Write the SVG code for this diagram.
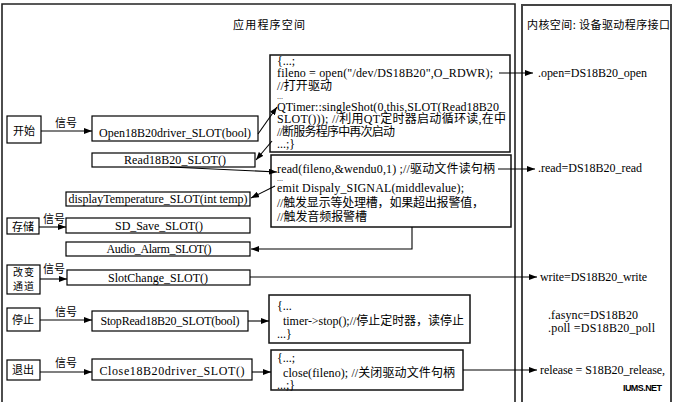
<svg xmlns="http://www.w3.org/2000/svg" width="677" height="402" viewBox="0 0 677 402">
<defs>
<marker id="ah" markerWidth="8" markerHeight="6" refX="8" refY="3" orient="auto" markerUnits="userSpaceOnUse">
<path d="M0,0 L8,3 L0,6 z" fill="#000"/>
</marker>
<style>
.frame{fill:none;stroke:#222;stroke-width:1.6}
.frame2{fill:none;stroke:#444;stroke-width:2}
.box{fill:#fff;stroke:#000;stroke-width:1.2}
.cbox{fill:#fff;stroke:#111;stroke-width:1.5}
.t{font-family:"Liberation Serif","Noto Sans CJK SC",serif;font-size:12px;fill:#000}
.d{font-family:"Liberation Serif",serif;font-size:8px;fill:#000}
.c{font-family:"Noto Sans CJK SC",sans-serif;font-size:11px;fill:#000}
.s{font-size:10px}
.m{text-anchor:middle}
.ln{fill:none;stroke:#000;stroke-width:1.1}
.ar{fill:none;stroke:#000;stroke-width:1.1;marker-end:url(#ah)}
.wm{font-family:"Liberation Sans",sans-serif;font-size:9px;font-weight:bold;fill:#000}
</style>
</defs>
<rect width="677" height="402" fill="#fff"/>

<g id="app-space">
<path class="frame" d="M2,402 V4 H515 V402"/>
<text class="c" x="233" y="29" textLength="72">应用程序空间</text>
</g>
<g id="kernel-space">
<path class="frame2" d="M522,402 V5 H671 V402"/>
<text class="c" x="527" y="29" textLength="143">内核空间: 设备驱动程序接口</text>
<text class="t" x="538" y="77" textLength="109">.open=DS18B20_open</text>
<text class="t" x="538" y="172" textLength="104">.read=DS18B20_read</text>
<text class="t" x="540" y="281" textLength="107">write=DS18B20_write</text>
<text class="t" x="548" y="319" textLength="90">.fasync=DS18B20</text>
<text class="t" x="548" y="332" textLength="107">.poll =DS18B20_poll</text>
<text class="t" x="540" y="374" textLength="125">release = S18B20_release,</text>
<text class="wm" x="623" y="391" textLength="39">IUMS.NET</text>
</g>

<g id="start">
<rect class="box" x="7" y="116" width="34" height="27"/>
<text class="c" x="13" y="135">开始</text>
</g>
<g id="open-slot">
<rect class="box" x="92" y="116" width="166" height="25"/>
<text class="t m" x="175" y="137" textLength="152">Open18B20driver_SLOT(bool)</text>
</g>
<g id="code-open">
<rect class="cbox" x="270" y="55" width="240" height="97"/>
<text class="t" x="277" y="65">{...;</text>
<text class="t" x="277" y="77" textLength="216">fileno = open("/dev/DS18B20",O_RDWR);</text>
<text class="t" x="277" y="90" textLength="55">//打开驱动</text>
<text class="d" x="277" y="99">...</text>
<text class="t" x="277" y="111" textLength="228">QTimer::singleShot(0,this,SLOT(Read18B20_</text>
<text class="t" x="277" y="123" textLength="229">SLOT())); //利用QT定时器启动循环读,在中</text>
<text class="t" x="277" y="136" textLength="118">//断服务程序中再次启动</text>
<text class="t" x="277" y="148">...;}</text>
</g>
<g id="read-slot">
<rect class="box" x="92" y="153" width="163" height="14"/>
<text class="t m" x="175" y="164" textLength="102">Read18B20_SLOT()</text>
</g>
<g id="code-read">
<rect class="cbox" x="271" y="155" width="240" height="72"/>
<text class="t" x="277" y="173" textLength="218">read(fileno,&amp;wendu0,1) ;//驱动文件读句柄</text>
<text class="d" x="277" y="181">...</text>
<text class="t" x="277" y="192" textLength="187">emit Dispaly_SIGNAL(middlevalue);</text>
<text class="t" x="277" y="207" textLength="207">//触发显示等处理槽，如果超出报警值，</text>
<text class="t" x="277" y="221" textLength="90">//触发音频报警槽</text>
</g>
<g id="display-slot">
<rect class="box" x="66" y="192" width="184" height="14"/>
<text class="t m" x="158" y="203" textLength="179">displayTemperature_SLOT(int temp)</text>
</g>
<g id="store">
<rect class="box" x="7" y="218" width="32" height="16"/>
<text class="c" x="12" y="231">存储</text>
</g>
<g id="sd-slot">
<rect class="box" x="66" y="218" width="184" height="15"/>
<text class="t m" x="159" y="230" textLength="88">SD_Save_SLOT()</text>
</g>
<g id="audio-slot">
<rect class="box" x="66" y="242" width="184" height="14"/>
<text class="t m" x="159" y="253" textLength="105">Audio_Alarm_SLOT()</text>
</g>
<g id="change">
<rect class="box" x="7" y="265" width="33" height="29"/>
<text class="c s" x="13" y="276" textLength="21">改变</text>
<text class="c s" x="13" y="290" textLength="21">通道</text>
</g>
<g id="slotchange-slot">
<rect class="box" x="67" y="270" width="183" height="15"/>
<text class="t m" x="158" y="282" textLength="100">SlotChange_SLOT()</text>
</g>
<g id="stop">
<rect class="box" x="7" y="308" width="33" height="23"/>
<text class="c" x="12" y="324">停止</text>
</g>
<g id="stopread-slot">
<rect class="box" x="92" y="311" width="156" height="20"/>
<text class="t m" x="170" y="325" textLength="139">StopRead18B20_SLOT(bool)</text>
</g>
<g id="code-stop">
<rect class="cbox" x="269" y="295" width="201" height="48"/>
<text class="t" x="277" y="310">{...</text>
<text class="t" x="283" y="325" textLength="181">timer-&gt;stop();//停止定时器，读停止</text>
<text class="t" x="277" y="338">...}</text>
</g>
<g id="exit">
<rect class="box" x="7" y="360" width="33" height="20"/>
<text class="c" x="12" y="374">退出</text>
</g>
<g id="close-slot">
<rect class="box" x="92" y="359" width="160" height="21"/>
<text class="t m" x="172" y="375" textLength="145">Close18B20driver_SLOT()</text>
</g>
<g id="code-close">
<rect class="cbox" x="271" y="350" width="192" height="40"/>
<text class="t" x="277" y="362">{...;</text>
<text class="t" x="283" y="377" textLength="172">close(fileno); //关闭驱动文件句柄</text>
<text class="t" x="277" y="389">...;}</text>
</g>

<g id="connectors">
<path class="ar" d="M41,131 H92"/>
<text class="c" x="55" y="127">信号</text>
<path class="ar" d="M258,134 L277,107"/>
<path class="ar" d="M272,141 L256,160"/>
<path class="ar" d="M170,167 L277,172"/>
<path class="ar" d="M499,73 H533"/>
<path class="ar" d="M498,169 H535"/>
<path class="ar" d="M275,186 L251,198"/>
<path class="ar" d="M412,227 V249 H251"/>
<path class="ar" d="M39,227 H66"/>
<text class="c" x="43" y="223">信号</text>
<path class="ar" d="M40,279 H67"/>
<text class="c" x="43" y="273">信号</text>
<path class="ar" d="M250,277 H537"/>
<path class="ar" d="M40,320 H92"/>
<text class="c" x="55" y="316">信号</text>
<path class="ar" d="M248,321 H269"/>
<path class="ar" d="M40,372 H92"/>
<text class="c" x="55" y="367">信号</text>
<path class="ar" d="M252,372 H271"/>
<path class="ar" d="M463,370 H537"/>
</g>
</svg>
